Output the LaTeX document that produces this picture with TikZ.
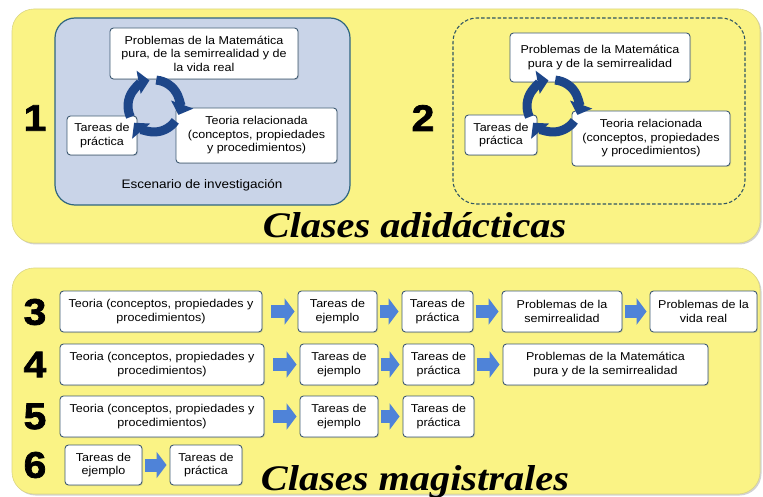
\documentclass[tikz,border=0pt]{standalone}
\usepackage{fontspec}
\setmainfont{Liberation Sans}[FakeStretch=1.1]
\newfontfamily\titlefont{Liberation Serif}[FakeStretch=1.12]
\newfontfamily\numfont{Liberation Sans}[FakeStretch=1.1, BoldFeatures={FakeBold=2}]
\usepackage{tikz}
\usetikzlibrary{arrows.meta}
\usetikzlibrary{shadows}

\definecolor{panelyellow}{HTML}{FAF385}
\definecolor{scenefill}{HTML}{C9D4E8}
\definecolor{sceneline}{HTML}{2F6580}
\definecolor{boxline}{HTML}{3E5A72}
\definecolor{dashline}{HTML}{2F5563}
\definecolor{cycleblue}{HTML}{1D4689}
\definecolor{flowblue}{HTML}{4F83D8}

\begin{document}
\begin{tikzpicture}[x=1pt,y=-1pt,
    panel/.style={fill=panelyellow, draw=panelyellow!75!gray, line width=0.6pt,
      rounded corners=22pt, inner sep=0pt, outer sep=0pt,
      drop shadow={shadow xshift=1.5pt, shadow yshift=-1.5pt, opacity=0.35}},
    scene/.style={fill=scenefill, draw=sceneline, line width=1.2pt,
      rounded corners=20pt, inner sep=0pt},
    dashbox/.style={draw=dashline, line width=1.1pt, dash pattern=on 3.5pt off 2pt,
      rounded corners=24pt, inner sep=0pt},
    box/.style={draw=boxline, fill=white, line width=0.9pt, rounded corners=3.5pt,
      align=center, inner sep=1pt, font=\fontsize{11.4}{13.5}\selectfont,
      drop shadow={shadow xshift=1pt, shadow yshift=-1pt, opacity=0.25}},
    numlabel/.style={font=\numfont\fontsize{37}{37}\selectfont\bfseries},
    bigtitle/.style={anchor=base, font=\titlefont\fontsize{36}{36}\selectfont\bfseries\itshape},
    cyclearrow/.style={draw=cycleblue, line width=9pt, -{Triangle[length=11pt,width=23pt]}},
    flow/.style={draw=flowblue, line width=13pt, -{Triangle[length=10pt,width=26pt]},
      shorten <=2.5pt, shorten >=3pt}
  ]
  \useasboundingbox[fill=white] (0,0) rectangle (763,497);

  \node[panel, minimum width=748pt, minimum height=234pt] (PA) at (386,126) {};
  \node[panel, minimum width=748pt, minimum height=226pt] (PB) at (386,381) {};

  \node[scene, minimum width=295pt, minimum height=187pt] (S1) at (202.5,111.5) {};
  \node[dashbox, minimum width=292pt, minimum height=186pt] (S2) at (599,111) {};

  \node[numlabel] (N1) at (35,118) {1};
  \node[box, minimum width=188pt, minimum height=51pt] (P1) at (204,53.5)
    {Problemas de la Matemática\\pura, de la semirrealidad y de\\la vida real};
  \node[box, minimum width=70pt, minimum height=39pt] (T1) at (102,135.5) {Tareas de\\práctica};
  \node[box, minimum width=161pt, minimum height=55pt] (R1) at (256.5,135.5)
    {Teoria relacionada\\(conceptos, propiedades\\y procedimientos)};
  \node[font=\fontsize{12.3}{14}\selectfont] (E1) at (202,185) {Escenario de investigación};
  \coordinate (C1) at (154,106);
  \draw[cyclearrow] (C1) ++(-85:26) arc[start angle=-85, end angle=20, radius=26];
  \draw[cyclearrow] (C1) ++(35:26) arc[start angle=35, end angle=140, radius=26];
  \draw[cyclearrow] (C1) ++(155:26) arc[start angle=155, end angle=260, radius=26];

  \node[numlabel] (N2) at (423,118) {2};
  \node[box, minimum width=180pt, minimum height=49pt] (P2) at (600,57.5)
    {Problemas de la Matemática\\pura y de la semirrealidad};
  \node[box, minimum width=72pt, minimum height=40pt] (T2) at (501,135) {Tareas de\\práctica};
  \node[box, minimum width=158pt, minimum height=55pt] (R2) at (651,138.5)
    {Teoria relacionada\\(conceptos, propiedades\\y procedimientos)};
  \coordinate (C2) at (553,106);
  \draw[cyclearrow] (C2) ++(-85:26) arc[start angle=-85, end angle=20, radius=26];
  \draw[cyclearrow] (C2) ++(35:26) arc[start angle=35, end angle=140, radius=26];
  \draw[cyclearrow] (C2) ++(155:26) arc[start angle=155, end angle=260, radius=26];

  \node[bigtitle] (TA) at (414.5,237) {Clases adidácticas};

  \node[numlabel] (N3) at (35,312) {3};
  \node[box, minimum width=202pt, minimum height=41pt] (A3) at (161,311.5)
    {Teoria (conceptos, propiedades y\\procedimientos)};
  \node[box, minimum width=79pt, minimum height=41pt] (B3) at (337.5,311.5) {Tareas de\\ejemplo};
  \node[box, minimum width=71pt, minimum height=41pt] (C3) at (437.5,311.5) {Tareas de\\práctica};
  \node[box, minimum width=120pt, minimum height=41pt] (D3) at (562,311.5) {Problemas de la\\semirrealidad};
  \node[box, minimum width=107pt, minimum height=41pt] (E3) at (703.5,311.5) {Problemas de la\\vida real};
  \draw[flow, shorten <=9pt] (A3) -- (B3);
  \draw[flow] (B3) -- (C3);
  \draw[flow] (C3) -- (D3);
  \draw[flow] (D3) -- (E3);

  \node[numlabel] (N4) at (35,364.5) {4};
  \node[box, minimum width=204pt, minimum height=41pt] (A4) at (162,364.5)
    {Teoria (conceptos, propiedades y\\procedimientos)};
  \node[box, minimum width=78pt, minimum height=41pt] (B4) at (339,364.5) {Tareas de\\ejemplo};
  \node[box, minimum width=71pt, minimum height=41pt] (C4) at (438.5,364.5) {Tareas de\\práctica};
  \node[box, minimum width=205pt, minimum height=41pt] (D4) at (605.5,364.5)
    {Problemas de la Matemática\\pura y de la semirrealidad};
  \draw[flow, shorten <=9pt] (A4) -- (B4);
  \draw[flow] (B4) -- (C4);
  \draw[flow] (C4) -- (D4);

  \node[numlabel] (N5) at (35,416.5) {5};
  \node[box, minimum width=204pt, minimum height=41pt] (A5) at (162,416.5)
    {Teoria (conceptos, propiedades y\\procedimientos)};
  \node[box, minimum width=78pt, minimum height=41pt] (B5) at (339,416.5) {Tareas de\\ejemplo};
  \node[box, minimum width=71pt, minimum height=41pt] (C5) at (438.5,416.5) {Tareas de\\práctica};
  \draw[flow, shorten <=9pt] (A5) -- (B5);
  \draw[flow] (B5) -- (C5);

  \node[numlabel] (N6) at (35,465) {6};
  \node[box, minimum width=77pt, minimum height=40pt] (B6) at (103.5,465) {Tareas de\\ejemplo};
  \node[box, minimum width=72pt, minimum height=40pt] (C6) at (206,465) {Tareas de\\práctica};
  \draw[flow] (B6) -- (C6);

  \node[bigtitle] (TB) at (415,490) {Clases magistrales};
\end{tikzpicture}
\end{document}
